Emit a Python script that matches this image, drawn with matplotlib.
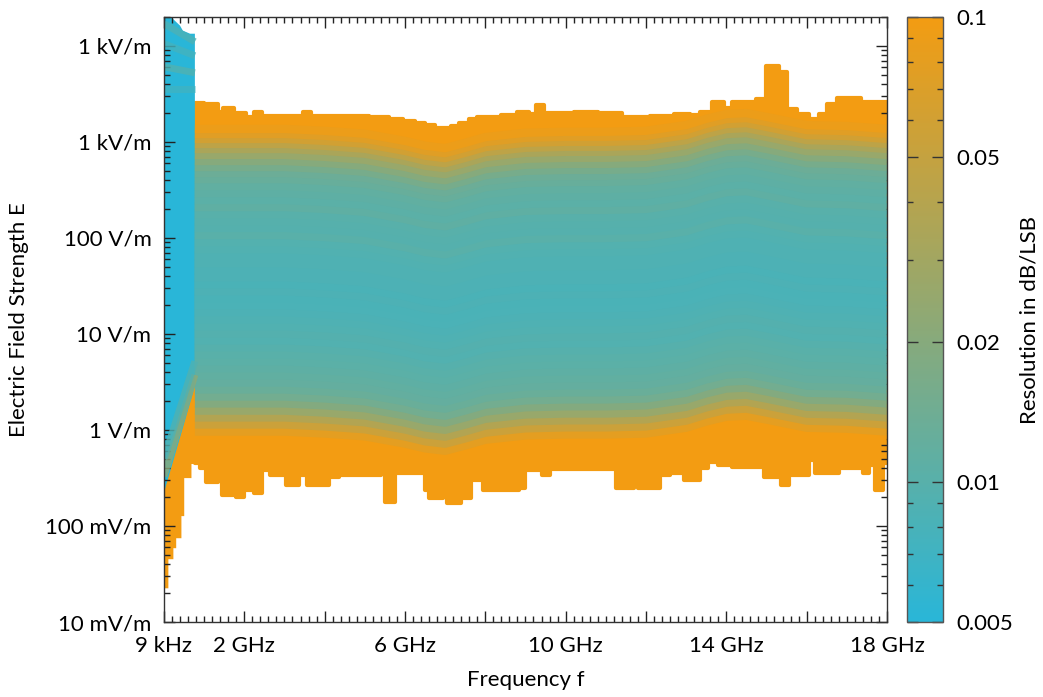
import numpy as np
import matplotlib
matplotlib.use("Agg")
import matplotlib.pyplot as plt
from matplotlib.colors import LinearSegmentedColormap, LogNorm
from matplotlib.cm import ScalarMappable
from matplotlib.ticker import FixedLocator, FixedFormatter, LogLocator, NullFormatter, MultipleLocator

plt.rcParams['font.family'] = ['Lato', 'DejaVu Sans']

# ---------------- data ----------------
# Upper band (0.77 - 18 GHz): outer envelope of all ranges, piecewise constant,
# each value holds from its frequency up to the next one.
top_edge_ghz = [0.77, 1.00, 1.35, 1.48, 1.75, 2.05, 2.25, 2.45, 3.45, 3.65, 5.10, 5.60,
                5.95, 6.25, 6.50, 6.75, 7.15, 7.35, 7.60, 7.80, 8.40, 8.80, 9.10, 9.25,
                9.45, 10.20, 10.80, 11.40, 12.10, 12.70, 13.10, 13.35, 13.65, 13.95, 14.15,
                14.75, 15.00, 15.30, 15.50, 15.75, 16.05, 16.30, 16.50, 16.75, 17.35]
top_edge_vpm = [2553, 2494, 2055, 2265, 2008, 1824, 2055, 1868, 2055, 1868, 1824, 1738,
                1656, 1578, 1504, 1400, 1469, 1578, 1738, 1824, 1914, 2055, 1960, 2433,
                2008, 2055, 2008, 1824, 1868, 1960, 1914, 2055, 2617, 2265, 2617,
                2811, 6213, 5380, 2209, 1960, 1738, 1960, 2494, 2880, 2617]

bottom_edge_ghz = [0.77, 0.90, 1.05, 1.35, 1.45, 1.80, 2.00, 2.25, 2.45, 2.65, 3.05, 3.35,
                   3.55, 4.10, 4.35, 5.40, 5.50, 5.75, 6.50, 6.60, 6.95, 7.05, 7.40, 7.65,
                   7.95, 8.85, 9.00, 9.40, 9.60, 11.25, 11.70, 11.80, 12.35, 12.60, 12.95,
                   13.35, 13.55, 13.80, 14.15, 14.95, 15.35, 15.55, 16.05, 16.20, 16.80,
                   17.40, 17.55, 17.70, 17.90]
bottom_edge_vpm = [0.457, 0.405, 0.289, 0.405, 0.212, 0.202, 0.239, 0.222, 0.387, 0.342, 0.269, 0.342,
                   0.269, 0.327, 0.342, 0.415, 0.179, 0.359, 0.239, 0.197, 0.212, 0.175, 0.197, 0.303,
                   0.239, 0.251, 0.387, 0.342, 0.396, 0.251, 0.320, 0.251, 0.342, 0.359, 0.303,
                   0.405, 0.468, 0.436, 0.415, 0.327, 0.269, 0.342, 0.491, 0.359, 0.405,
                   0.359, 0.436, 0.239, 0.457]

# Frequency response of the upper-band probe (dB, relative)
response_ghz = [0.77, 2, 3, 4, 5, 6, 6.5, 7, 7.5, 8, 9, 10, 11, 12, 13, 13.5, 14, 14.5, 15, 16, 17, 18]
response_db = [0, 0, 0, -0.4, -1.0, -2.5, -3.5, -4.0, -2.9, -1.7, -0.8, -0.6, -0.6, -0.4,
               0.8, 2.1, 3.1, 3.3, 2.5, 0.8, 0.6, 0]

# Measurement levels (V/m at flat response) and their resolution (dB/LSB)
level_vpm = [0.833, 0.962, 1.14, 1.35, 1.59, 1.89, 2.23, 2.64, 3.12, 3.70, 4.37, 5.18,
             6.13, 7.25, 8.58, 10.1, 12.0, 14.2, 16.8, 19.9, 23.5, 27.8, 32.9, 39.0,
             46.1, 54.6, 64.6, 76.4, 90.4, 107, 127, 150, 177, 210, 248, 293,
             347, 411, 475, 548, 633, 732, 845, 953, 1075, 1212, 1367]
level_res = [0.1, 0.08, 0.055, 0.038, 0.026, 0.019, 0.015, 0.013, 0.012, 0.0115, 0.011, 0.0105,
             0.0102, 0.0098, 0.0092, 0.0095, 0.009, 0.0088, 0.0085, 0.0083, 0.0082, 0.0085, 0.0082, 0.0085,
             0.0085, 0.0088, 0.0088, 0.009, 0.0093, 0.0103, 0.0096, 0.0098, 0.01, 0.0112, 0.0105, 0.011,
             0.0115, 0.0125, 0.0135, 0.016, 0.02, 0.026, 0.034, 0.045, 0.06, 0.075, 0.09]

# Lower band (9 kHz - 0.77 GHz)
low_band_ghz = [9e-6, 0.77]
low_bottom_ghz = [9e-6, 0.075, 0.20, 0.27, 0.40, 0.47, 0.65, 0.77]
low_bottom_vpm = [0.0232, 0.0466, 0.0607, 0.0771, 0.131, 0.326, 0.457, 0.457]
low_top_ghz = [9e-6, 0.10, 0.27, 0.40, 0.47, 0.65, 0.77]
low_top_vpm = [21700, 21700, 18320, 16260, 14420, 13400, 13400]
low_split_vpm = [0.222, 2.84]           # boundary of coarse-resolution region
low_start_vpm = [0.33, 0.50, 3575, 6067, 10540, 17060]
low_end_vpm = [3.75, 5.20, 3575, 5250, 7900, 11060]
low_res = [0.022, 0.009, 0.007, 0.009, 0.0075, 0.0085]

# Axis labels
x_tick_ghz = [9e-6, 2, 4, 6, 8, 10, 12, 14, 16, 18]
x_tick_labels = ['9 kHz', '2 GHz', '', '6 GHz', '', '10 GHz', '', '14 GHz', '', '18 GHz']
y_tick_vpm = [0.01, 0.1, 1, 10, 100, 1000, 10000]
y_tick_labels = ['10 mV/m', '100 mV/m', '1 V/m', '10 V/m', '100 V/m', '1 kV/m', '1 kV/m']
cb_ticks = [0.005, 0.01, 0.02, 0.05, 0.1]
cb_labels = ['0.005', '0.01', '0.02', '0.05', '0.1']

# ---------------- drawing ----------------
cyan = '#29b6d8'
orange = '#f39c12'
cmap = LinearSegmentedColormap.from_list('res', [cyan, orange])
norm = LogNorm(vmin=0.005, vmax=0.1)

fig = plt.figure(figsize=(10.43, 6.97), dpi=100)
ax = fig.add_axes([0.1572, 0.1076, 0.6932, 0.868])
cax = fig.add_axes([0.8696, 0.1076, 0.0345, 0.868])


def step_at(edges, values, x):
    idx = np.searchsorted(edges, x, side='right') - 1
    return np.asarray(values)[np.clip(idx, 0, len(values) - 1)]


# upper band envelope
grid = np.union1d(np.union1d(top_edge_ghz, bottom_edge_ghz), [18.0])
ax.fill_between(grid, step_at(bottom_edge_ghz, bottom_edge_vpm, grid),
                step_at(top_edge_ghz, top_edge_vpm, grid), step='post',
                facecolor=orange, edgecolor=orange, linewidth=3, joinstyle='round', zorder=1)

resp = 10 ** (np.asarray(response_db) / 20.0)
for lv, r in zip(level_vpm, level_res):
    ax.plot(response_ghz, lv * resp, color=cmap(norm(r)), lw=6.0,
            solid_capstyle='butt', solid_joinstyle='round', zorder=2)

# lower band: coarse-resolution region (straight boundary on top, stepped edge below)
verts = [(low_band_ghz[0], low_split_vpm[0]), (low_band_ghz[1], low_split_vpm[1])]
n = len(low_bottom_ghz)
for i in range(n - 1, 0, -1):
    verts.append((low_bottom_ghz[i], low_bottom_vpm[i]))
    verts.append((low_bottom_ghz[i], low_bottom_vpm[i - 1]))
verts.append((low_bottom_ghz[0], low_bottom_vpm[0]))
vx, vy = zip(*verts)
ax.fill(vx, vy, color=orange, lw=2, zorder=1)
# lower band: fine-resolution region
verts = list(zip(low_top_ghz, low_top_vpm)) + [(low_band_ghz[1], low_split_vpm[1]),
                                                (low_band_ghz[0], low_split_vpm[0])]
vx, vy = zip(*verts)
ax.fill(vx, vy, color=cyan, lw=0, zorder=1)
for s, e, r in zip(low_start_vpm, low_end_vpm, low_res):
    ax.plot(low_band_ghz, [s, e], color=cmap(norm(r)), lw=5.0, solid_capstyle='butt',
            alpha=0.8, zorder=2)

# axes styling
ax.set_yscale('log')
ax.set_xlim(9e-6, 18)
ax.set_ylim(0.01, 2.0e4)
ax.xaxis.set_major_locator(FixedLocator(x_tick_ghz))
ax.xaxis.set_major_formatter(FixedFormatter(x_tick_labels))
ax.xaxis.set_minor_locator(MultipleLocator(0.2))
ax.yaxis.set_major_locator(FixedLocator(y_tick_vpm))
ax.yaxis.set_major_formatter(FixedFormatter(y_tick_labels))
ax.yaxis.set_minor_locator(LogLocator(base=10, subs=np.arange(2, 10)))
ax.yaxis.set_minor_formatter(NullFormatter())
ax.tick_params(which='both', direction='in', top=True, right=True, color='#222222', width=1.0)
ax.tick_params(which='major', length=8, labelsize=16, pad=9)
ax.tick_params(which='minor', length=4)
ax.tick_params(axis='x', pad=10)
for sp in ax.spines.values():
    sp.set_color('#333333')
    sp.set_linewidth(1.0)
    sp.set_zorder(5)
ax.set_xlabel('Frequency f', fontsize=16, labelpad=10)
ax.set_ylabel('Electric Field Strength E', fontsize=16, labelpad=12)

# colour bar
cb = fig.colorbar(ScalarMappable(norm=norm, cmap=cmap), cax=cax)
cb.outline.set_edgecolor('#555555')
cb.outline.set_linewidth(1.0)
cax.yaxis.set_major_locator(FixedLocator(cb_ticks))
cax.yaxis.set_major_formatter(FixedFormatter(cb_labels))
cax.yaxis.set_minor_locator(FixedLocator([0.006, 0.007, 0.008, 0.009, 0.03, 0.04,
                                          0.06, 0.07, 0.08, 0.09]))
cax.yaxis.set_minor_formatter(NullFormatter())
cax.tick_params(which='both', direction='in', left=True, right=True, labelleft=False,
                labelright=True, color='#333333', width=1.0)
cax.tick_params(which='major', length=8, labelsize=16, pad=10)
cax.tick_params(which='minor', length=4)
cb.set_label('Resolution in dB/LSB', fontsize=16, labelpad=4)

fig.savefig('out.png', dpi=100)
